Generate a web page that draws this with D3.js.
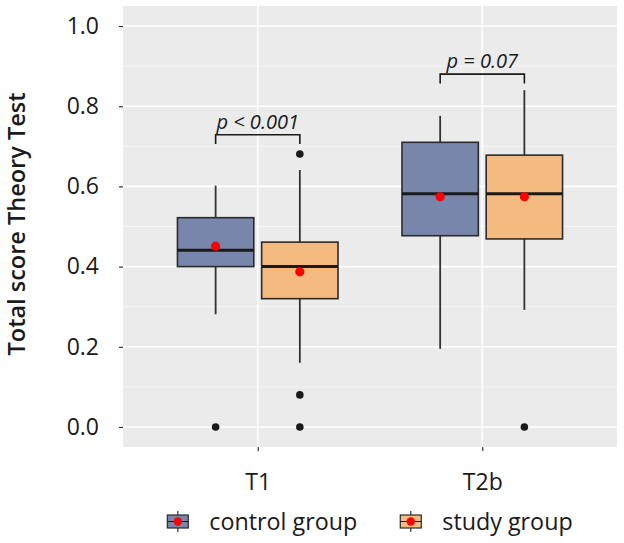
<!DOCTYPE html>
<html>
<head>
<meta charset="utf-8">
<script src="https://cdn.jsdelivr.net/npm/d3@7"></script>
<style>
  body { margin: 0; background: #fff; }
  text { font-family: "Open Sans", "Noto Sans", sans-serif; fill: #1a1a1a; }
</style>
</head>
<body>
<div id="chart"></div>
<script>
// categories and groups
const timepoints = ["T1", "T2b"];
const groups = ["control group", "study group"];
const groupColors = ["#7886ab", "#f5ba80"];

// box stats per timepoint: [lower whisker, Q1, median, Q3, upper whisker]
const controlBox = [[0.281, 0.400, 0.441, 0.522, 0.602], [0.195, 0.477, 0.582, 0.710, 0.776]];
const studyBox = [[0.160, 0.320, 0.400, 0.461, 0.641], [0.292, 0.469, 0.582, 0.678, 0.840]];
const controlMean = [0.451, 0.574];
const studyMean = [0.387, 0.574];
const controlOutliers = [[0.0], []];
const studyOutliers = [[0.0, 0.08, 0.681], [0.0]];

// significance brackets
const pLabels = ["p < 0.001", "p = 0.07"];
const bracketY = [0.729, 0.880];

const yTicks = [0, 0.2, 0.4, 0.6, 0.8, 1.0];
const yMinor = [0.1, 0.3, 0.5, 0.7, 0.9];

// set the dimensions of the panel
var W = 624, H = 543;
var panel = {left: 123, right: 617, top: 6, bottom: 447};

var svg = d3.select("#chart").append("svg")
    .attr("width", W)
    .attr("height", H);

// scales
var x = d3.scalePoint().domain(timepoints).range([panel.left, panel.right]).padding(0.6);
var y = d3.scaleLinear().domain([-0.05, 1.05]).range([panel.bottom, panel.top]);
var step = x.step();
var dodge = 0.1875 * step;
var boxW = 0.34 * step;

// panel background
svg.append("rect")
    .attr("x", panel.left).attr("y", panel.top)
    .attr("width", panel.right - panel.left)
    .attr("height", panel.bottom - panel.top)
    .attr("fill", "#ebebeb");

// grid lines
svg.selectAll(".minor").data(yMinor).enter().append("line")
    .attr("x1", panel.left).attr("x2", panel.right)
    .attr("y1", d => y(d)).attr("y2", d => y(d))
    .attr("stroke", "#f7f7f7").attr("stroke-width", 0.9);
svg.selectAll(".major").data(yTicks).enter().append("line")
    .attr("x1", panel.left).attr("x2", panel.right)
    .attr("y1", d => y(d)).attr("y2", d => y(d))
    .attr("stroke", "#fff").attr("stroke-width", 1.6);
svg.selectAll(".vmajor").data(timepoints).enter().append("line")
    .attr("x1", d => x(d)).attr("x2", d => x(d))
    .attr("y1", panel.top).attr("y2", panel.bottom)
    .attr("stroke", "#fff").attr("stroke-width", 1.6);

// Y axis
var yAxis = svg.append("g")
    .attr("transform", "translate(" + panel.left + ",0)")
    .call(d3.axisLeft(y).tickValues(yTicks).tickFormat(d3.format(".1f")).tickSize(4).tickPadding(20));
yAxis.select(".domain").remove();
yAxis.selectAll(".tick line").attr("stroke", "#333").attr("stroke-width", 1.2);
yAxis.selectAll(".tick text").attr("font-size", 23).attr("fill", "#1a1a1a")
    .style("font-family", '"Open Sans", sans-serif');

// X axis
var xAxis = svg.append("g")
    .attr("transform", "translate(0," + panel.bottom + ")")
    .call(d3.axisBottom(x).tickSize(4).tickPadding(23));
xAxis.select(".domain").remove();
xAxis.selectAll(".tick line").attr("stroke", "#333").attr("stroke-width", 1.2);
xAxis.selectAll(".tick text").attr("font-size", 23).attr("fill", "#1a1a1a")
    .style("font-family", '"Open Sans", sans-serif');

// y title
svg.append("text")
    .attr("transform", "translate(25,224) rotate(-90)")
    .attr("text-anchor", "middle")
    .attr("font-size", 23.5)
    .attr("font-weight", 600)
    .text("Total score Theory Test");

// draw boxplots
const series = [
  {box: controlBox, mean: controlMean, out: controlOutliers, off: -dodge, color: groupColors[0]},
  {box: studyBox, mean: studyMean, out: studyOutliers, off: dodge, color: groupColors[1]}
];

series.forEach(function(s) {
  timepoints.forEach(function(t, i) {
    var b = s.box[i];
    var cx = x(t) + s.off;
    var g = svg.append("g");
    // whiskers
    g.append("line").attr("x1", cx).attr("x2", cx)
        .attr("y1", y(b[4])).attr("y2", y(b[3]))
        .attr("stroke", "#333").attr("stroke-width", 1.8);
    g.append("line").attr("x1", cx).attr("x2", cx)
        .attr("y1", y(b[1])).attr("y2", y(b[0]))
        .attr("stroke", "#333").attr("stroke-width", 1.8);
    // box
    g.append("rect")
        .attr("x", cx - boxW / 2).attr("y", y(b[3]))
        .attr("width", boxW).attr("height", y(b[1]) - y(b[3]))
        .attr("fill", s.color).attr("stroke", "#2b2b2b").attr("stroke-width", 1.6);
    // median
    g.append("line").attr("x1", cx - boxW / 2).attr("x2", cx + boxW / 2)
        .attr("y1", y(b[2])).attr("y2", y(b[2]))
        .attr("stroke", "#1a1a1a").attr("stroke-width", 3);
    // outliers
    g.selectAll(".out").data(s.out[i]).enter().append("circle")
        .attr("cx", cx).attr("cy", d => y(d)).attr("r", 3.8)
        .attr("fill", "#1a1a1a");
    // mean
    g.append("circle").attr("cx", cx).attr("cy", y(s.mean[i])).attr("r", 4.6)
        .attr("fill", "#ff0000");
  });
});

// brackets with p values
timepoints.forEach(function(t, i) {
  var x1 = x(t) - dodge, x2 = x(t) + dodge;
  var yb = y(bracketY[i]), yt = y(bracketY[i] - 0.023);
  svg.append("path")
      .attr("d", "M" + x1 + "," + yt + "V" + yb + "H" + x2 + "V" + yt)
      .attr("fill", "none").attr("stroke", "#1a1a1a").attr("stroke-width", 1.6);
  svg.append("text")
      .attr("x", x(t)).attr("y", yb - 6)
      .attr("text-anchor", "middle")
      .attr("font-size", 20)
      .attr("font-style", "italic")
      .text(pLabels[i]);
});

// legend
var legend = svg.append("g");
var lx = 0;
groups.forEach(function(name, i) {
  var item = legend.append("g").attr("transform", "translate(" + lx + ",0)");
  item.append("line").attr("x1", 10.5).attr("x2", 10.5).attr("y1", -10).attr("y2", 11)
      .attr("stroke", "#333").attr("stroke-width", 1.2);
  item.append("rect").attr("x", 0).attr("y", -6).attr("width", 21).attr("height", 13)
      .attr("fill", groupColors[i]).attr("stroke", "#2b2b2b").attr("stroke-width", 1.2);
  item.append("line").attr("x1", 0).attr("x2", 21).attr("y1", 0.5).attr("y2", 0.5)
      .attr("stroke", "#1a1a1a").attr("stroke-width", 1);
  item.append("circle").attr("cx", 10.5).attr("cy", 0.5).attr("r", 4.2).attr("fill", "#ff0000");
  var txt = item.append("text").attr("x", 42).attr("y", 9)
      .attr("font-size", 23.3).text(name);
  lx += 42 + txt.node().getComputedTextLength() + 43;
});
var legendW = lx - 43;
legend.attr("transform", "translate(" + ((panel.left + panel.right) / 2 - legendW / 2) + ",521)");
</script>
</body>
</html>
